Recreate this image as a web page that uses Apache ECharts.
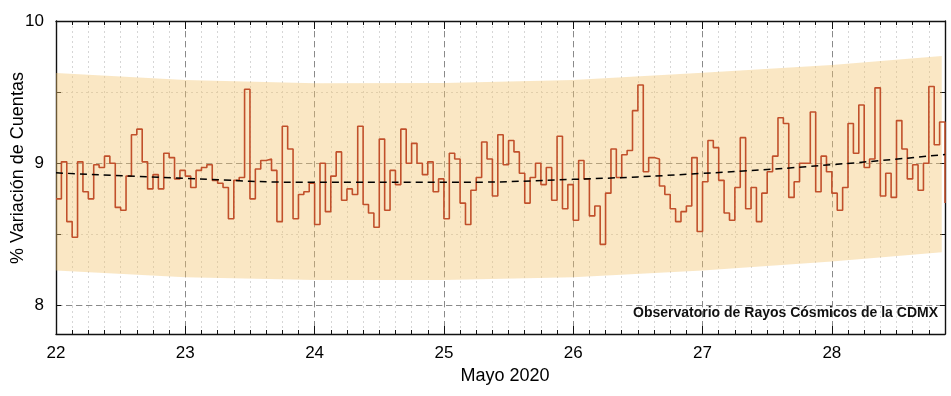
<!DOCTYPE html>
<html>
<head>
<meta charset="utf-8">
<script src="https://cdn.jsdelivr.net/npm/echarts@6/dist/echarts.min.js"></script>
<style>
html, body { margin: 0; padding: 0; background: #fff; }
#chart { width: 951px; height: 396px; }
</style>
</head>
<body>
<div id="chart"></div>
<script>
// hourly counts, % variation, starting 22 May 2020 00h
const startDay = 22;
const hourly = [
  8.75, 9.01, 8.59, 8.48, 9.01, 8.80, 8.75, 8.99, 8.97, 9.05, 9.00, 8.69,
  8.67, 8.91, 9.20, 9.24, 9.01, 8.82, 8.92, 8.82, 9.07, 9.04, 8.89, 8.95,
  8.91, 8.83, 8.95, 8.97, 8.99, 8.88, 8.86, 8.83, 8.61, 8.88, 8.90, 9.52,
  8.75, 8.96, 9.02, 9.03, 8.95, 8.59, 9.26, 9.10, 8.61, 8.78, 8.80, 8.86,
  8.57, 9.00, 8.66, 8.91, 9.08, 8.74, 8.82, 8.78, 9.26, 8.71, 8.65, 8.55,
  9.17, 8.67, 8.95, 8.85, 9.24, 9.00, 9.14, 9.00, 8.92, 9.01, 8.80, 8.89,
  8.61, 9.07, 9.03, 8.72, 8.57, 8.81, 8.90, 9.15, 9.03, 8.77, 9.20, 8.99,
  9.16, 9.08, 8.93, 8.72, 8.90, 9.00, 8.85, 8.97, 8.74, 9.19, 8.68, 8.85,
  8.60, 9.02, 8.89, 8.63, 8.70, 8.43, 8.79, 9.10, 8.90, 9.06, 9.09, 9.37,
  9.55, 8.94, 9.04, 9.03, 8.84, 8.78, 8.68, 8.59, 8.66, 8.70, 9.04, 8.52,
  8.87, 9.16, 9.11, 8.88, 8.65, 8.60, 8.83, 9.18, 8.68, 8.83, 8.59, 8.79,
  8.94, 9.05, 9.32, 9.28, 8.76, 8.87, 9.00, 9.00, 9.36, 8.80, 9.05, 8.94,
  8.79, 8.67, 8.83, 9.28, 9.07, 9.41, 8.97, 9.03, 9.53, 8.77, 8.93, 8.76,
  9.30, 9.10, 8.89, 8.99, 8.81, 9.00, 9.54, 9.13, 9.29, 8.72
];

// trend and band, read at each day
const trendDays = [22, 23, 24, 25, 26, 27, 28, 28.875];
const trendVals = [8.933, 8.894, 8.866, 8.866, 8.887, 8.929, 8.99, 9.062];
const bandDays = [22, 23, 24, 25, 26, 27, 28, 28.85];
const bandUpper = [9.635, 9.585, 9.562, 9.565, 9.586, 9.637, 9.69, 9.754];
const bandLower = [8.246, 8.199, 8.18, 8.18, 8.199, 8.246, 8.309, 8.375];

// y ticks
const yTicks = [8, 8.5, 9, 9.5, 10];
const yLabels = [8, 9, 10];
const yMajor = [8, 9];

const xMin = 22, xMax = 28.875;
const yMin = 7.8, yMax = 10;

const font = 'Liberation Sans, Arial, sans-serif';
const frameLine = { show: true, onZero: false, lineStyle: { color: '#111', width: 1.4 } };
const isWhole = v => Math.abs(v - Math.round(v)) < 1e-6;

var myChart = echarts.init(document.getElementById('chart'));

var option = {
  animation: false,
  backgroundColor: '#fff',
  title: {
    text: 'Observatorio de Rayos Cósmicos de la CDMX',
    right: 13,
    top: 306,
    padding: 0,
    textStyle: { fontSize: 14, fontWeight: 'bold', color: '#111', fontFamily: font }
  },
  // y axis title, rotated
  graphic: [{
    type: 'text', x: 18, y: 168, rotation: Math.PI / 2, silent: true,
    style: {
      text: '% Variación de Cuentas', fill: '#000',
      font: '18px Liberation Sans, Arial, sans-serif',
      align: 'center', verticalAlign: 'middle'
    }
  }],
  grid: { left: 56, right: 6, top: 21, bottom: 62, outerBoundsMode: 'none', containLabel: false },
  xAxis: [
    {
      type: 'value', position: 'bottom', min: xMin, max: xMax, interval: 0.125,
      axisLine: frameLine,
      axisTick: { inside: true, length: 4, lineStyle: { color: '#111' } },
      axisLabel: {
        formatter: v => isWhole(v) ? String(Math.round(v)) : '',
        fontSize: 17, color: '#000', margin: 11, fontFamily: font
      },
      splitLine: { show: true, showMinLine: false, showMaxLine: false,
        lineStyle: { color: '#d6d6d6', type: [2, 3], width: 1 } },
      name: 'Mayo 2020', nameLocation: 'middle', nameGap: 33,
      nameTextStyle: { fontSize: 18, color: '#000', fontFamily: font, padding: [0, 0, 0, 9] }
    },
    {
      type: 'value', position: 'top', min: xMin, max: xMax, interval: 0.125,
      axisLine: frameLine,
      axisTick: { inside: true, length: 4, lineStyle: { color: '#111' } },
      axisLabel: { show: false },
      splitLine: { show: false }
    },
    {
      type: 'value', position: 'bottom', min: xMin, max: xMax, interval: 1,
      axisLine: { show: false },
      axisTick: { inside: true, length: 8, lineStyle: { color: '#111' } },
      axisLabel: { show: false },
      splitLine: { show: true, showMinLine: false, showMaxLine: false,
        lineStyle: { color: '#8a8a8a', type: [6, 4], width: 1 } }
    },
    {
      type: 'value', position: 'top', min: xMin, max: xMax, interval: 1,
      axisLine: { show: false },
      axisTick: { inside: true, length: 8, lineStyle: { color: '#111' } },
      axisLabel: { show: false },
      splitLine: { show: false }
    }
  ],
  yAxis: [
    {
      type: 'value', position: 'left', min: yMin, max: yMax,
      axisLine: frameLine,
      axisTick: { inside: true, length: 5, customValues: yTicks, lineStyle: { color: '#111' } },
      axisLabel: {
        customValues: yLabels,
        formatter: v => String(v),
        fontSize: 17, color: '#000', margin: 12, fontFamily: font
      },
      splitLine: { show: true, lineStyle: { color: '#d6d6d6', type: [2, 3], width: 1 } }
    },
    {
      type: 'value', position: 'right', min: yMin, max: yMax,
      axisLine: frameLine,
      axisTick: { inside: true, length: 5, customValues: yTicks, lineStyle: { color: '#111' } },
      axisLabel: { show: false },
      splitLine: { show: false }
    },
    {
      type: 'value', position: 'left', min: yMin, max: yMax,
      axisLine: { show: false },
      axisTick: { show: false, customValues: yMajor },
      axisLabel: { show: false },
      splitLine: { show: true, lineStyle: { color: '#8a8a8a', type: [6, 4], width: 1 } }
    }
  ],
  series: [
    {
      name: 'banda', type: 'custom', silent: true, clip: true, z: 1,
      data: [0],
      renderItem: function (params, api) {
        var top = bandDays.map((d, i) => api.coord([d, bandUpper[i]]));
        var bottom = bandDays.map((d, i) => api.coord([d, bandLower[i]])).reverse();
        return {
          type: 'polygon',
          shape: { points: top.concat(bottom) },
          style: { fill: 'rgba(242, 195, 108, 0.4)' }
        };
      }
    },
    {
      name: 'cuentas', type: 'line', step: 'end', symbol: 'none',
      data: hourly.map((v, i) => [startDay + i / 24, v]),
      lineStyle: { color: '#c1502b', width: 1.6 }, z: 3
    },
    {
      name: 'tendencia', type: 'line', smooth: true, symbol: 'none',
      data: trendDays.map((d, i) => [d, trendVals[i]]),
      lineStyle: { color: '#000', width: 1.5, type: [7, 5] }, z: 4
    }
  ]
};
myChart.setOption(option);
</script>
</body>
</html>
